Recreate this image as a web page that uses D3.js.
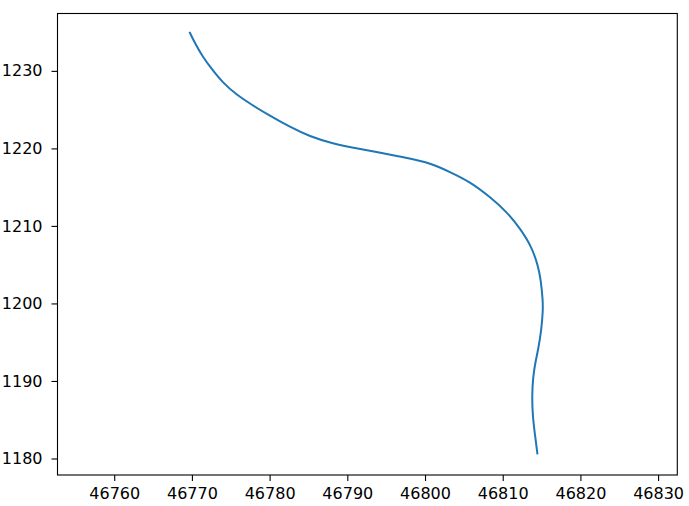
<!DOCTYPE html>
<html>
<head>
<meta charset="utf-8">
<script src="https://cdn.jsdelivr.net/npm/d3@7"></script>
<style>
  body { margin: 0; background: #fff; }
  svg { display: block; }
  .axis text { font-family: "DejaVu Sans", sans-serif; font-size: 16px; fill: #000; }
  .axis path, .axis line { stroke: #000; stroke-width: 1.1; }
</style>
</head>
<body>
<svg id="chart" width="689" height="506"></svg>
<script>
// path (easting, northing)
const xs = [46769.74, 46770.30, 46771.37, 46772.66, 46773.95, 46775.68, 46777.82, 46779.97,
  46782.55, 46785.14, 46788.14, 46791.16, 46794.17, 46796.75, 46799.33, 46800.62,
  46803.20, 46805.78, 46808.35, 46810.52, 46812.23, 46813.74, 46814.59, 46814.90,
  46815.16, 46815.18, 46814.98, 46814.55, 46814.22, 46813.90, 46813.76, 46813.87,
  46814.13, 46814.46]
const ys = [1234.92, 1233.75, 1231.82, 1230.10, 1228.50, 1226.95, 1225.55, 1224.25,
  1222.80, 1221.55, 1220.62, 1220.00, 1219.45, 1218.95, 1218.40, 1218.08,
  1216.98, 1215.69, 1213.75, 1211.82, 1209.68, 1207.30, 1204.72, 1203.01,
  1200.43, 1199.14, 1196.55, 1193.97, 1192.50, 1190.53, 1187.95, 1185.37,
  1183.23, 1180.65]

const xTicks = [46760, 46770, 46780, 46790, 46800, 46810, 46820, 46830]
const yTicks = [1180, 1190, 1200, 1210, 1220, 1230]

const plotL = 57.5, plotT = 13.5, plotR = 677.3, plotB = 475

var svg = d3.select('#chart')

var x = d3.scaleLinear().domain([46752.70, 46832.47]).range([plotL, plotR])
var y = d3.scaleLinear().domain([1177.87, 1237.40]).range([plotB, plotT])

// frame
svg.append('rect')
  .attr('x', plotL).attr('y', plotT)
  .attr('width', plotR - plotL).attr('height', plotB - plotT)
  .attr('fill', 'none').attr('stroke', '#000').attr('stroke-width', 1.1)

svg.append('g').attr('class', 'axis')
  .attr('transform', `translate(0,${plotB})`)
  .call(d3.axisBottom(x).tickValues(xTicks).tickFormat(d3.format('d')).tickSize(6).tickPadding(7).tickSizeOuter(0))
  .call(g => g.select('.domain').remove())

svg.append('g').attr('class', 'axis')
  .attr('transform', `translate(${plotL},0)`)
  .call(d3.axisLeft(y).tickValues(yTicks).tickFormat(d3.format('d')).tickSize(6).tickPadding(9).tickSizeOuter(0))
  .call(g => g.select('.domain').remove())

var pts = xs.map((v, i) => [v, ys[i]])

svg.append('path')
  .datum(pts)
  .attr('fill', 'none')
  .attr('stroke', '#1f77b4')
  .attr('stroke-width', 2)
  .attr('stroke-linecap', 'square')
  .attr('d', d3.line().x(d => x(d[0])).y(d => y(d[1])).curve(d3.curveBasis))
</script>
</body>
</html>
